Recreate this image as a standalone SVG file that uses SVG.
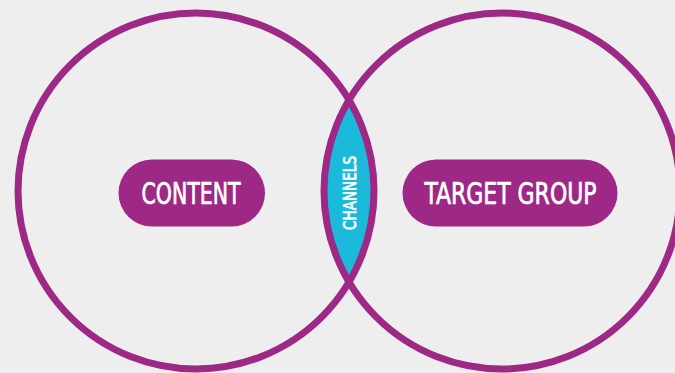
<svg xmlns="http://www.w3.org/2000/svg" width="675" height="373" viewBox="0 0 675 373">
  <style>
    .ring { fill: none; stroke: #9d2885; stroke-width: 7; }
    .pill { fill: #9d2885; }
    .lbl { fill: #ffffff; stroke: #ffffff; stroke-width: 0.7; font-family: "Liberation Sans Narrow", "DejaVu Sans Condensed", "Liberation Sans", sans-serif; text-anchor: middle; }
  </style>
  <rect x="0" y="0" width="675" height="373" fill="#eeeeee"/>
  <g id="channels">
    <path d="M349,98 A179,179 0 0 1 349,284 A179,179 0 0 1 349,98 Z" fill="#1bb9da"/>
  </g>
  <g id="content">
    <circle class="ring" cx="196" cy="191" r="178"/>
    <rect class="pill" x="118.5" y="159.5" width="146.5" height="67" rx="33.5" ry="33.5"/>
    <text class="lbl" x="191" y="204.3" font-size="30" textLength="99" lengthAdjust="spacingAndGlyphs">CONTENT</text>
  </g>
  <g id="target-group">
    <circle class="ring" cx="502" cy="191" r="178"/>
    <rect class="pill" x="402.5" y="159.5" width="215" height="67" rx="33.5" ry="33.5"/>
    <text class="lbl" x="510.5" y="204.3" font-size="30" textLength="172" lengthAdjust="spacingAndGlyphs">TARGET GROUP</text>
  </g>
  <g id="channels-label">
    <text class="lbl" transform="translate(356,193) rotate(-90)" x="0" y="0" font-size="18.5" stroke-width="0.5" textLength="74" lengthAdjust="spacingAndGlyphs">CHANNELS</text>
  </g>
  <g id="connectors"/>
</svg>
